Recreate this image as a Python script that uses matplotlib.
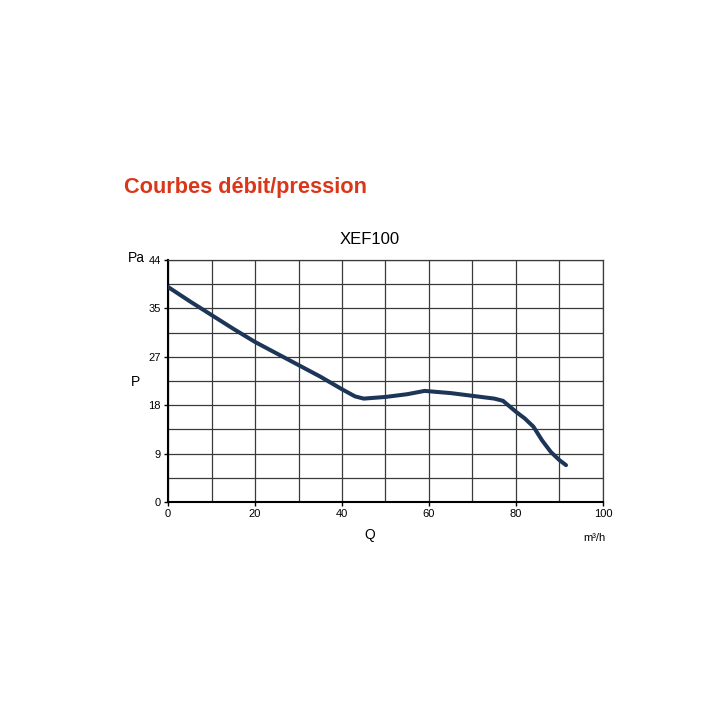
import numpy as np
import matplotlib
matplotlib.use("Agg")
import matplotlib.pyplot as plt

plt.rcParams['font.family'] = ['Liberation Sans', 'DejaVu Sans']

# debit (m3/h) / pression (Pa)
Q = [0, 5, 10, 15, 20, 25, 30, 35, 40, 43, 45, 50, 55, 59, 65, 70, 75, 77, 80, 82, 84, 86, 88, 90, 91.5]
P = [39.1, 36.5, 34.0, 31.5, 29.1, 27.0, 24.9, 22.8, 20.5, 19.2, 18.8, 19.1, 19.6, 20.2, 19.8, 19.3, 18.8, 18.4, 16.4, 15.2, 13.7, 11.2, 9.1, 7.6, 6.7]

yticks = [0, 8.8, 17.6, 26.4, 35.2, 44]
ytick_labels = ["0", "9", "18", "27", "35", "44"]
xticks = [0, 20, 40, 60, 80, 100]

fig = plt.figure(figsize=(7.2, 7.2), dpi=100)
ax = fig.add_axes([168/720, 1 - 502/720, (603-168)/720, (502-260)/720])

ax.plot(Q, P, color="#1d3557", lw=2.9, solid_capstyle="round", solid_joinstyle="round", zorder=3)

ax.set_xlim(0, 100)
ax.set_ylim(0, 44)
ax.set_xticks(xticks)
ax.set_yticks(yticks)
ax.set_yticklabels(ytick_labels)
ax.set_xticks(np.arange(0, 101, 10), minor=True)
ax.set_yticks(np.arange(0, 44.1, 4.4), minor=True)
ax.grid(which="both", color="#3a3a3a", lw=0.9)
ax.tick_params(which="major", length=3, width=1, labelsize=8, pad=2, color="black")
ax.tick_params(which="minor", length=0)
for s in ["top", "right"]:
    ax.spines[s].set_color("#3a3a3a")
    ax.spines[s].set_linewidth(0.9)
for s in ["left", "bottom"]:
    ax.spines[s].set_color("black")
    ax.spines[s].set_linewidth(1.5)

fig.text(124/720, 1 - 188/720, "Courbes débit/pression", color="#d9361a",
         fontsize=15.7, fontweight="bold", va="center", ha="left")
fig.text(370/720, 1 - 240/720, "XEF100", fontsize=12, va="center", ha="center")
fig.text(128/720, 1 - 258/720, "Pa", fontsize=10, va="center", ha="left")
fig.text(136/720, 1 - 382/720, "P", fontsize=10, va="center", ha="center")
fig.text(370/720, 1 - 535/720, "Q", fontsize=10, va="center", ha="center")
fig.text(606/720, 1 - 538/720, "m³/h", fontsize=8, va="center", ha="right")

fig.savefig("out.png", dpi=100, facecolor="white")
